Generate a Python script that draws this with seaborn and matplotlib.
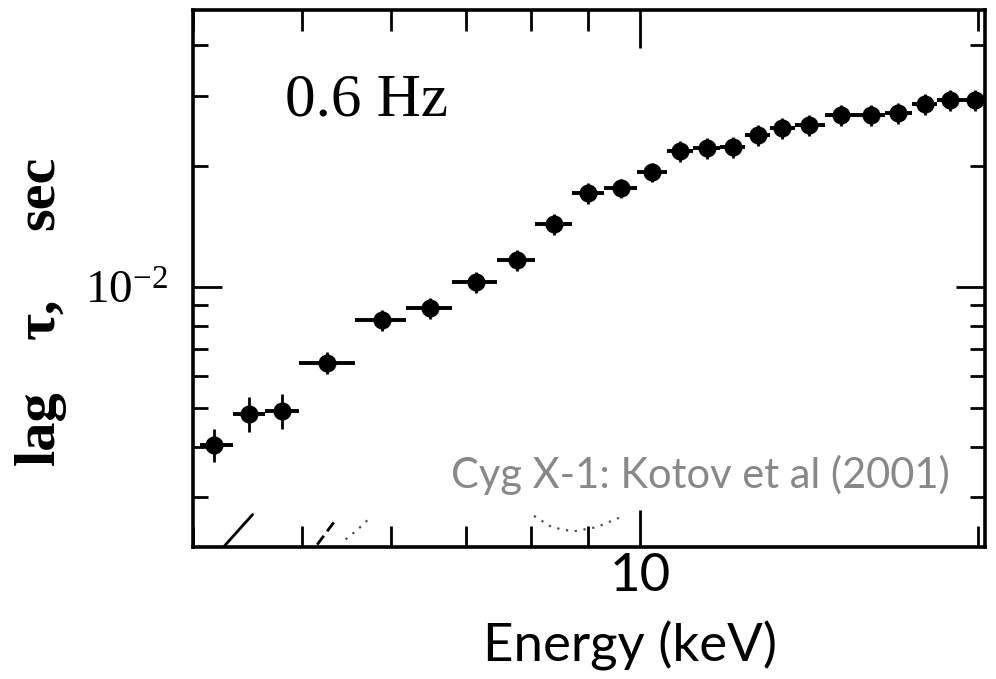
import numpy as np
import pandas as pd
import matplotlib
matplotlib.use("Agg")
import matplotlib.pyplot as plt
from matplotlib.ticker import FixedLocator, NullFormatter, FixedFormatter
import seaborn as sns

# Time lag vs photon energy at 0.6 Hz (Cyg X-1)
energy_keV = [4.18, 4.49, 4.80, 5.26, 5.89, 6.50, 7.14, 7.78, 8.38, 9.00, 9.62, 10.25,
              10.87, 11.49, 12.11, 12.74, 13.38, 14.16, 15.11, 16.06, 17.00, 17.96, 18.90, 19.90]
bin_edges_keV = [4.06, 4.34, 4.64, 4.97, 5.58, 6.19, 6.81, 7.46, 8.06, 8.71, 9.30, 9.94,
                 10.57, 11.16, 11.79, 12.40, 13.06, 13.76, 14.63, 15.58, 16.53, 17.46, 18.40,
                 19.36, 20.40]
lag_sec = [4.05e-3, 4.83e-3, 4.91e-3, 6.47e-3, 8.28e-3, 8.87e-3, 1.029e-2, 1.167e-2,
           1.434e-2, 1.713e-2, 1.763e-2, 1.932e-2, 2.18e-2, 2.22e-2, 2.23e-2, 2.39e-2,
           2.49e-2, 2.53e-2, 2.68e-2, 2.68e-2, 2.71e-2, 2.85e-2, 2.92e-2, 2.92e-2]
lag_err = [3.9e-4, 4.8e-4, 4.9e-4, 4.0e-4, 5.0e-4, 5.4e-4, 6.2e-4, 7.0e-4,
           8.6e-4, 1.0e-3, 1.0e-3, 1.1e-3, 1.3e-3, 1.3e-3, 1.3e-3, 1.4e-3,
           1.5e-3, 1.5e-3, 1.6e-3, 1.6e-3, 1.6e-3, 1.7e-3, 1.8e-3, 1.8e-3]

# Fragments of model curves near the bottom of the panel
model_solid_x = [4.27, 4.52]
model_solid_y = [2.27e-3, 2.71e-3]
model_dashed_x = [5.16, 5.36]
model_dashed_y = [2.28e-3, 2.63e-3]
model_dotted_a_x = [5.47, 5.61, 5.75]
model_dotted_a_y = [2.35e-3, 2.49e-3, 2.66e-3]
model_dotted_b_x = [8.05, 8.35, 8.72, 9.15, 9.58]
model_dotted_b_y = [2.69e-3, 2.52e-3, 2.46e-3, 2.52e-3, 2.66e-3]

x_minor_ticks = [4, 5, 6, 7, 8, 9, 20]
x_major_ticks = [10]
x_major_labels = ["10"]
y_minor_ticks = [3e-3, 4e-3, 5e-3, 6e-3, 7e-3, 8e-3, 9e-3, 2e-2, 3e-2, 4e-2]
y_major_ticks = [1e-2]
y_major_labels = [r"$\mathrm{10^{-2}}$"]

panel_label = "0.6 Hz"
credit = "Cyg X-1: Kotov et al (2001)"
x_label = "Energy (keV)"
y_label_words = ["lag", "\u03c4,", "sec"]

narrow = ["Lato", "DejaVu Sans"]

sns.set_theme(style="ticks")
plt.rcParams["mathtext.fontset"] = "custom"
plt.rcParams["mathtext.rm"] = "Liberation Serif"
plt.rcParams["mathtext.default"] = "regular"

df = pd.DataFrame({"energy": energy_keV, "lag": lag_sec, "err": lag_err})
lo = np.array(energy_keV) - np.array(bin_edges_keV[:-1])
hi = np.array(bin_edges_keV[1:]) - np.array(energy_keV)

fig = plt.figure(figsize=(9.96, 6.79), dpi=100)
ax = fig.add_axes([193 / 996, 1 - 547 / 679, (985 - 193) / 996, (547 - 10) / 679])
ax.set_xscale("log")
ax.set_yscale("log")
ax.set_xlim(4.0, 20.3)
ax.set_ylim(2.25e-3, 4.9e-2)

ax.errorbar(df["energy"], df["lag"], xerr=[lo, hi], fmt="none",
            ecolor="black", elinewidth=2.8, capsize=0, zorder=2)
ax.errorbar(df["energy"], df["lag"], yerr=df["err"], fmt="none",
            ecolor="black", elinewidth=2.0, capsize=0, zorder=2)
sns.scatterplot(data=df, x="energy", y="lag", ax=ax, color="black", s=170,
                edgecolor="black", linewidth=0, zorder=3, legend=False)

ax.plot(model_solid_x, model_solid_y, color="black", lw=2.0)
ax.plot(model_dashed_x, model_dashed_y, color="black", lw=2.0, ls=(0, (4, 2)))
ax.plot(model_dotted_a_x, model_dotted_a_y, color="black", lw=1.6, ls=(0, (1, 3)), alpha=0.7)
ax.plot(model_dotted_b_x, model_dotted_b_y, color="black", lw=1.6, ls=(0, (1, 3)), alpha=0.7)

ax.xaxis.set_major_locator(FixedLocator(x_major_ticks))
ax.xaxis.set_major_formatter(FixedFormatter(x_major_labels))
ax.xaxis.set_minor_locator(FixedLocator(x_minor_ticks))
ax.xaxis.set_minor_formatter(NullFormatter())
ax.yaxis.set_major_locator(FixedLocator(y_major_ticks))
ax.yaxis.set_major_formatter(FixedFormatter(y_major_labels))
ax.yaxis.set_minor_locator(FixedLocator(y_minor_ticks))
ax.yaxis.set_minor_formatter(NullFormatter())

for s in ax.spines.values():
    s.set_linewidth(2.6)
    s.set_color("black")

ax.tick_params(axis="both", which="both", direction="in", top=True, right=True,
               color="black", width=2.0)
ax.tick_params(axis="x", which="major", length=27, pad=4, labelsize=38,
               labelcolor="black")
ax.tick_params(axis="x", which="minor", length=15)
ax.tick_params(axis="y", which="major", length=21, pad=18, labelsize=34,
               labelcolor="black")
ax.tick_params(axis="y", which="minor", length=11)
for t in ax.get_xticklabels():
    t.set_family(narrow)
for t in ax.get_yticklabels():
    t.set_family("Liberation Serif")

ax.set_xlabel("")
ax.set_ylabel("")

fig.text(630 / 996, 1 - 646 / 679, x_label, ha="center", va="center", fontsize=38,
         family=narrow, color="black")
# y-axis title, word by word
for word, yc in zip(y_label_words, [428, 318, 193]):
    fig.text(40 / 996, 1 - yc / 679, word, ha="center", va="center", rotation=90,
             fontsize=42, fontweight="bold", family="Liberation Serif", color="black")
fig.text(285 / 996, 1 - 116 / 679, panel_label, ha="left", va="baseline", fontsize=44,
         family="Liberation Serif", color="black")
fig.text(950 / 996, 1 - 488 / 679, credit, ha="right", va="baseline", fontsize=30,
         family=narrow, color="#888888")

fig.savefig("out.png", dpi=100, facecolor="white")
